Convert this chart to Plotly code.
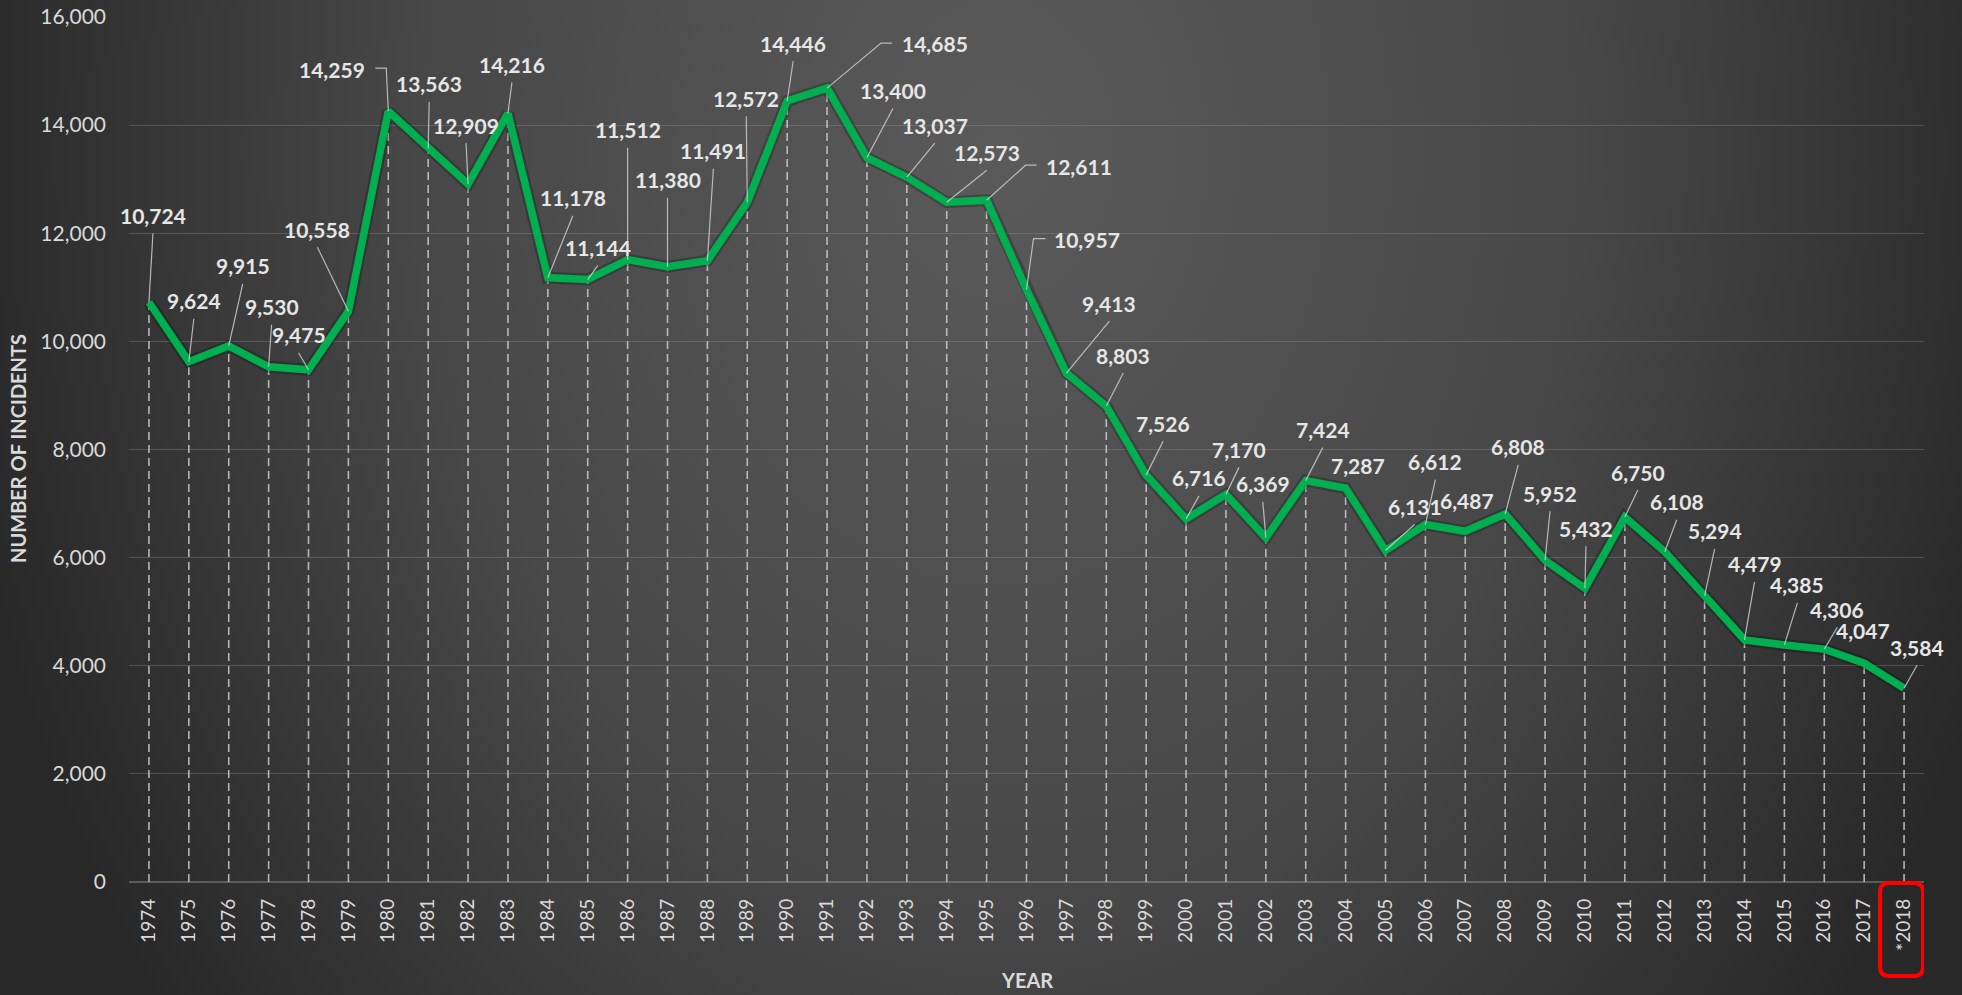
import base64
import plotly.graph_objects as go

# ---------------- data ----------------
YEARS = list(range(1974, 2019))
INCIDENTS = [10724, 9624, 9915, 9530, 9475, 10558, 14259, 13563, 12909, 14216,
             11178, 11144, 11512, 11380, 11491, 12572, 14446, 14685, 13400, 13037,
             12573, 12611, 10957, 9413, 8803, 7526, 6716, 7170, 6369, 7424,
             7287, 6131, 6612, 6487, 6808, 5952, 5432, 6750, 6108, 5294,
             4479, 4385, 4306, 4047, 3584]
TICK_TEXT = [str(y) for y in YEARS[:-1]] + ["*2018"]
Y_TICKS = [0, 2000, 4000, 6000, 8000, 10000, 12000, 14000, 16000]

# ---------------- label placement (pixel offsets from the point, screen-down positive) ----------------
LABEL_OFFSETS = [(4, -87), (5, -61), (14, -80), (3, -60), (-10, -35), (-31, -82), (-56, -42),
                 (1, -65), (-2, -59), (4, -49), (25, -80), (10, -32), (0, -130), (0, -87),
                 (6, -110), (-1, -104), (6, -58), (108, -45), (26, -67), (28, -52), (40, -50),
                 (92, -34), (60, -50), (43, -70), (17, -51), (17, -52), (13, -41), (13, -45),
                 (-3, -54), (17, -51), (12, -23), (29, -44), (10, -63), (2, -31), (13, -67),
                 (5, -67), (1, -60), (13, -45), (12, -50), (10, -65), (10, -76), (13, -60),
                 (13, -40), (-1, -33), (13, -41)]
NO_LEADER = {2004, 2007, 2017}
ELBOW_LEADERS = {1980: [(-2, -43), (-13, -43)],
                 1991: [(54, -45), (65, -45)],
                 1995: [(39, -35), (50, -35)],
                 1996: [(7, -51), (19, -51)]}

W, H = 1962, 995
GREEN = "#00B050"
TEXT = "#d9d9d9"
LABEL = "#e6e6e6"
FONT = "Lato"

# ---------------- background gradient (SVG data URI) ----------------
svg = f'''<svg xmlns="http://www.w3.org/2000/svg" width="{W}" height="{H}" viewBox="0 0 {W} {H}" preserveAspectRatio="none">
<defs><radialGradient id="g" gradientUnits="userSpaceOnUse" cx="0" cy="0" r="1"
 gradientTransform="translate(1000,150) scale(1060,1400)">
<stop offset="0" stop-color="#5a5a5a"/><stop offset="0.55" stop-color="#474747"/>
<stop offset="1" stop-color="#282828"/></radialGradient></defs>
<rect x="0" y="0" width="{W}" height="{H}" fill="url(#g)"/></svg>'''
bg_uri = "data:image/svg+xml;base64," + base64.b64encode(svg.encode()).decode()

ML, MR, MT, MB = 129, 38, 17, 113
PW, PH = W - ML - MR, H - MT - MB

fig = go.Figure()

# dashed drop lines from each point to the baseline
dx_, dy_ = [], []
for yr, v in zip(YEARS, INCIDENTS):
    dx_ += [yr, yr, None]
    dy_ += [0, v, None]
fig.add_trace(go.Scatter(x=dx_, y=dy_, mode="lines", hoverinfo="skip",
                         line=dict(color="rgba(205,205,205,0.85)", width=1.6, dash="8px,5px")))

# soft shadow + main line
fig.add_trace(go.Scatter(x=YEARS, y=INCIDENTS, mode="lines", hoverinfo="skip",
                         line=dict(color="rgba(0,0,0,0.22)", width=12)))
fig.add_trace(go.Scatter(x=YEARS, y=INCIDENTS, mode="lines",
                         line=dict(color=GREEN, width=7.5)))

annotations = []
shapes = []
for yr, v, (ox, oy) in zip(YEARS, INCIDENTS, LABEL_OFFSETS):
    annotations.append(dict(x=yr, y=v, xref="x", yref="y", text=f"{v:,}", showarrow=False,
                            xshift=ox, yshift=-oy, xanchor="center", yanchor="middle",
                            font=dict(family=FONT, size=21, color=LABEL, weight=700)))
    if yr in NO_LEADER:
        continue
    if yr in ELBOW_LEADERS:
        pts = [(0, 0)] + ELBOW_LEADERS[yr]
    else:
        pts = [(0, 0), (ox, oy + 18)]
    path = "M" + " L".join(f"{px},{-py}" for px, py in pts)
    shapes.append(dict(type="path", xref="x", yref="y", xsizemode="pixel", ysizemode="pixel",
                       xanchor=yr, yanchor=v, path=path,
                       line=dict(color="rgba(205,205,205,0.85)", width=1.2), layer="above"))

# red rounded box around the last tick label
r = 9
x0, x1, y0, y1 = -24, 19, -1, -94
box = (f"M{x0 + r},{y0} L{x1 - r},{y0} Q{x1},{y0} {x1},{y0 - r} L{x1},{y1 + r} "
       f"Q{x1},{y1} {x1 - r},{y1} L{x0 + r},{y1} Q{x0},{y1} {x0},{y1 + r} "
       f"L{x0},{y0 - r} Q{x0},{y0} {x0 + r},{y0} Z")
shapes.append(dict(type="path", xref="x", yref="paper", xsizemode="pixel", ysizemode="pixel",
                   xanchor=YEARS[-1], yanchor=0, path=box,
                   line=dict(color="#ff0000", width=4), layer="above"))

# axis titles
annotations.append(dict(text="NUMBER OF INCIDENTS", xref="paper", yref="paper",
                        x=-(ML - 18) / PW, y=1 - (449 - MT) / PH, textangle=-90,
                        showarrow=False, xanchor="center", yanchor="middle",
                        font=dict(family=FONT, size=20, color=TEXT, weight=700)))
annotations.append(dict(text="YEAR", xref="paper", yref="paper",
                        x=0.5, y=-(980 - (MT + PH)) / PH, showarrow=False,
                        xanchor="center", yanchor="middle",
                        font=dict(family=FONT, size=20, color=TEXT, weight=700)))

fig.update_layout(
    width=W, height=H,
    margin=dict(l=ML, r=MR, t=MT, b=MB, pad=0, autoexpand=False),
    paper_bgcolor="#383838", plot_bgcolor="rgba(0,0,0,0)",
    showlegend=False,
    font=dict(family=FONT, color=TEXT),
    annotations=annotations, shapes=shapes,
    images=[dict(source=bg_uri, xref="paper", yref="paper",
                 x=-ML / PW, y=1 + MT / PH, sizex=W / PW, sizey=H / PH,
                 xanchor="left", yanchor="top", sizing="stretch", layer="below")],
    xaxis=dict(range=[YEARS[0] - 0.5, YEARS[-1] + 0.5], tickvals=YEARS, ticktext=TICK_TEXT,
               tickangle=-90, tickfont=dict(family=FONT, size=19, color=TEXT),
               showgrid=False, zeroline=False, showline=False, ticks="",
               ticklabelstandoff=12, fixedrange=True, automargin=False),
    yaxis=dict(range=[0, 16000], tickvals=Y_TICKS, tickformat=",d",
               tickfont=dict(family=FONT, size=21, color=TEXT),
               showgrid=True, gridcolor="rgba(150,150,150,0.35)", gridwidth=1.2,
               zeroline=True, zerolinecolor="rgba(150,150,150,0.45)", zerolinewidth=1.5,
               showline=False, ticks="", ticklabelstandoff=22, fixedrange=True,
               automargin=False),
    hovermode=False,
)

fig.write_html("out.html", config=dict(displayModeBar=False),
               post_script="document.body.style.margin='0';document.body.style.overflow='hidden';"
                           "document.body.style.background='#383838';")
